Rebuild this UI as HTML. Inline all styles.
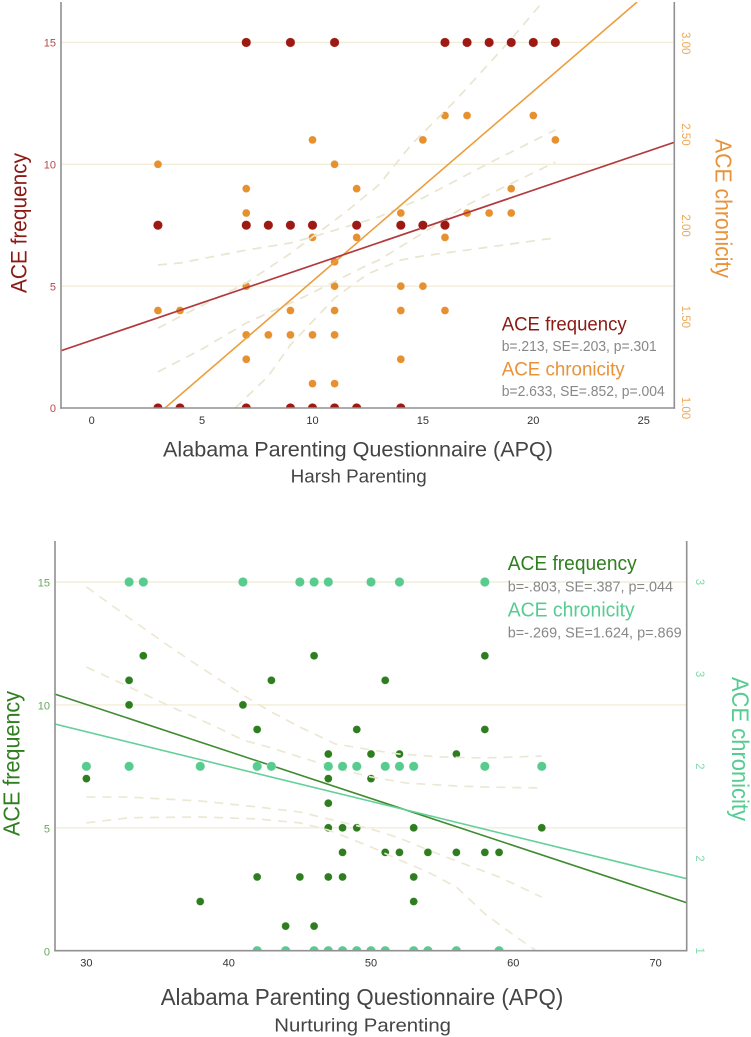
<!DOCTYPE html>
<html lang="en">
<head>
<meta charset="utf-8">
<title>ACE frequency and chronicity by parenting scores</title>
<style>
html,body{margin:0;padding:0;background:#fff;}
svg{display:block;font-family:"Liberation Sans",sans-serif;}
</style>
</head>
<body>
<svg id="figure" width="751" height="1037" viewBox="0 0 751 1037" xmlns="http://www.w3.org/2000/svg">
<defs>
<clipPath id="harsh-clip"><rect x="61" y="2" width="613" height="406"/></clipPath>
<clipPath id="nurt-clip"><rect x="55" y="541" width="632" height="410"/></clipPath>
</defs>
<g id="harsh-chart"></g>
<g id="nurt-chart"></g>

<text transform="translate(26.7,293) rotate(-90)" font-size="22" fill="#8B1A14" textLength="140" lengthAdjust="spacingAndGlyphs">ACE frequency</text>
<text transform="translate(715.5,139) rotate(90)" font-size="23" fill="#E8923A" textLength="139" lengthAdjust="spacingAndGlyphs">ACE chronicity</text>
<text x="163" y="456.7" font-size="21" fill="#444" textLength="390" lengthAdjust="spacingAndGlyphs">Alabama Parenting Questionnaire (APQ)</text>
<text x="290.7" y="482.7" font-size="18" fill="#444" textLength="136" lengthAdjust="spacingAndGlyphs">Harsh Parenting</text>
<text x="501.7" y="330.7" font-size="19.5" fill="#8B1A14" textLength="125" lengthAdjust="spacingAndGlyphs">ACE frequency</text>
<text x="501.7" y="351" font-size="14.5" fill="#888" textLength="155" lengthAdjust="spacingAndGlyphs">b=.213, SE=.203, p=.301</text>
<text x="501.7" y="375.7" font-size="19.5" fill="#E8923A" textLength="123" lengthAdjust="spacingAndGlyphs">ACE chronicity</text>
<text x="501.7" y="396" font-size="14.5" fill="#888" textLength="163" lengthAdjust="spacingAndGlyphs">b=2.633, SE=.852, p=.004</text>

<text transform="translate(19.3,836) rotate(-90)" font-size="23" fill="#2F7F1F" textLength="145" lengthAdjust="spacingAndGlyphs">ACE frequency</text>
<text transform="translate(732,677) rotate(90)" font-size="24" fill="#57CC92" textLength="144" lengthAdjust="spacingAndGlyphs">ACE chronicity</text>
<text x="160.7" y="1005" font-size="23" fill="#444" textLength="402.6" lengthAdjust="spacingAndGlyphs">Alabama Parenting Questionnaire (APQ)</text>
<text x="274.3" y="1031.7" font-size="18.5" fill="#444" textLength="176.7" lengthAdjust="spacingAndGlyphs">Nurturing Parenting</text>
<text x="507.7" y="570" font-size="20" fill="#2F7F1F" textLength="129" lengthAdjust="spacingAndGlyphs">ACE frequency</text>
<text x="507.7" y="591.7" font-size="15" fill="#888" textLength="165.3" lengthAdjust="spacingAndGlyphs">b=-.803, SE=.387, p=.044</text>
<text x="507.7" y="616.7" font-size="20" fill="#57CC92" textLength="127" lengthAdjust="spacingAndGlyphs">ACE chronicity</text>
<text x="507.7" y="637.7" font-size="15" fill="#888" textLength="174" lengthAdjust="spacingAndGlyphs">b=-.269, SE=1.624, p=.869</text>
</svg>

<script>
/* ---------- Harsh parenting chart data ---------- */
var harshXTicks = [0, 5, 10, 15, 20, 25];
var harshLeftTicks = [0, 5, 10, 15];
var harshGridTicks = [5, 10, 15];
var harshRightTicks = [1, 1.5, 2, 2.5, 3];
var harshRightLabels = ['1.00', '1.50', '2.00', '2.50', '3.00'];

var harshDarkX = [7, 9, 11, 16, 17, 18, 19, 20, 21, 3, 7, 8, 9, 10, 12, 14, 15, 16, 3, 4, 7, 9, 10, 11, 12, 14];
var harshDarkY = [15, 15, 15, 15, 15, 15, 15, 15, 15, 7.5, 7.5, 7.5, 7.5, 7.5, 7.5, 7.5, 7.5, 7.5, 0, 0, 0, 0, 0, 0, 0, 0];

var harshLightX = [16, 17, 20, 10, 15, 21, 3, 11, 7, 12, 19, 7, 14, 17, 18, 19, 10, 12, 16, 11, 7, 11, 14, 15, 3, 4, 9, 11, 14, 16, 7, 8, 9, 10, 11, 7, 14, 10, 11];
var harshLightY = [12, 12, 12, 11, 11, 11, 10, 10, 9, 9, 9, 8, 8, 8, 8, 8, 7, 7, 7, 6, 5, 5, 5, 5, 4, 4, 4, 4, 4, 4, 3, 3, 3, 3, 3, 2, 2, 1, 1];

var harshDarkLineX = [-1.39, 26.37];
var harshDarkLineY = [2.35, 10.9];
var harshLightLineX = [3.32, 24.7];
var harshLightLineY = [0, 16.66];

var harshBand1X = [3, 4, 7, 9, 10, 13, 15, 18, 21];
var harshBand1Y = [5.87, 5.95, 6.48, 6.77, 7.02, 7.84, 8.62, 10.05, 11.41];
var harshBand2X = [3, 4.5, 7, 9, 11.5, 13, 14.5, 16.5, 19, 20.5];
var harshBand2Y = [3.28, 3.98, 5.13, 6.34, 8.04, 9.15, 10.83, 12.64, 15.14, 16.74];
var harshBand3X = [3, 5, 7, 9.5, 12.5, 13, 15, 17, 21];
var harshBand3Y = [1.48, 2.42, 3.49, 4.51, 5.87, 6.07, 7.18, 8.33, 10.09];
var harshBand4X = [6.5, 8, 9, 11, 12.5, 14, 15, 17, 21];
var harshBand4Y = [0, 1.31, 2.59, 4.51, 5.5, 6.07, 6.24, 6.48, 6.98];

/* ---------- Nurturing parenting chart data ---------- */
var nurtXTicks = [30, 40, 50, 60, 70];
var nurtLeftTicks = [0, 5, 10, 15];
var nurtGridTicks = [5, 10, 15];
var nurtRightTicks = [1, 1.5, 2, 2.5, 3];
var nurtRightLabels = ['1', '2', '2', '3', '3'];

var nurtDarkX = [34, 46, 58, 33, 43, 51, 33, 41, 42, 49, 58, 47, 50, 52, 56, 30, 47, 50, 47, 47, 48, 49, 53, 62, 48, 51, 52, 54, 56, 58, 59, 42, 45, 47, 48, 53, 38, 53, 44, 46];
var nurtDarkY = [12, 12, 12, 11, 11, 11, 10, 10, 9, 9, 9, 8, 8, 8, 8, 7, 7, 7, 6, 5, 5, 5, 5, 5, 4, 4, 4, 4, 4, 4, 4, 3, 3, 3, 3, 3, 2, 2, 1, 1];

var nurtLightX = [33, 34, 41, 45, 46, 47, 50, 52, 58, 30, 33, 38, 42, 43, 47, 48, 49, 51, 52, 53, 58, 62, 42, 44, 46, 47, 48, 49, 50, 51, 53, 54, 56, 59];
var nurtLightY = [15, 15, 15, 15, 15, 15, 15, 15, 15, 7.5, 7.5, 7.5, 7.5, 7.5, 7.5, 7.5, 7.5, 7.5, 7.5, 7.5, 7.5, 7.5, 0, 0, 0, 0, 0, 0, 0, 0, 0, 0, 0, 0];

var nurtDarkLineX = [27.79, 72.19];
var nurtDarkLineY = [10.44, 1.95];
var nurtLightLineX = [27.79, 72.19];
var nurtLightLineY = [9.22, 2.93];

var nurtBand1X = [30, 33, 36, 38, 41, 43, 45, 47.5, 50, 52, 55, 58, 62];
var nurtBand1Y = [14.8, 13.54, 12.31, 11.54, 10.4, 9.71, 9.1, 8.41, 8.17, 8, 7.88, 7.84, 7.92];
var nurtBand2X = [30, 33, 36, 39, 41, 43, 45, 48, 50, 52.5, 56, 58, 62];
var nurtBand2Y = [11.54, 10.73, 9.91, 9.14, 8.57, 8.25, 7.88, 7.35, 7.07, 6.82, 6.7, 6.66, 6.62];
var nurtBand3X = [30, 33, 38, 42, 45, 47, 50, 52, 54, 56, 59, 62];
var nurtBand3Y = [6.25, 6.25, 6.09, 5.85, 5.64, 5.36, 4.95, 4.58, 4.1, 3.65, 3, 2.18];
var nurtBand4X = [30, 33, 38, 42, 45, 47, 50, 52, 54, 56, 58, 60, 61.6];
var nurtBand4Y = [5.2, 5.41, 5.44, 5.36, 5.2, 4.91, 4.22, 3.69, 3.2, 2.59, 1.5, 0.65, 0];

/* ---------- Axis functions ---------- */
function harshX(v) { return 91.7 + 22.08 * v; }
function harshY(v) { return 408 - 24.37 * v; }
function harshRightY(v) { return 408 - 182.4 * (v - 1); }
function nurtX(v) { return 86.4 + 14.23 * (v - 30); }
function nurtY(v) { return 950.7 - 24.58 * v; }
function nurtRightY(v) { return 950.7 - 184.4 * (v - 1); }

var NS = 'http://www.w3.org/2000/svg';

function drawDots(parent, xs, ys, sx, sy, r, fill, name, clipId) {
  var g = document.createElementNS(NS, 'g');
  g.setAttribute('clip-path', 'url(#' + clipId + ')');
  
  
  for (var i = 0; i < xs.length; i++) {
    var c = document.createElementNS(NS, 'circle');
    c.setAttribute('cx', sx(xs[i]));
    c.setAttribute('cy', sy(ys[i]));
    c.setAttribute('r', r);
    c.setAttribute('fill', fill);
    c.setAttribute('stroke', '#fff');
    c.setAttribute('stroke-width', '0.5');
    c.setAttribute('stroke-opacity', '0.6');
    
    
    g.appendChild(c);
  }
  parent.appendChild(g);
}

function drawPath(parent, xs, ys, sx, sy, stroke, width, dash, name, clipId) {
  var p = document.createElementNS(NS, 'polyline');
  var pts = [];
  for (var i = 0; i < xs.length; i++) {
    pts.push(sx(xs[i]).toFixed(2) + ',' + sy(ys[i]).toFixed(2));
  }
  p.setAttribute('points', pts.join(' '));
  p.setAttribute('fill', 'none');
  p.setAttribute('stroke', stroke);
  p.setAttribute('stroke-width', width);
  if (dash) { p.setAttribute('stroke-dasharray', dash); }
  p.setAttribute('clip-path', 'url(#' + clipId + ')');
  
  
  parent.appendChild(p);
}

function drawRule(parent, x1, y1, x2, y2, stroke, width, name) {
  var l = document.createElementNS(NS, 'line');
  l.setAttribute('x1', x1);
  l.setAttribute('y1', y1);
  l.setAttribute('x2', x2);
  l.setAttribute('y2', y2);
  l.setAttribute('stroke', stroke);
  l.setAttribute('stroke-width', width);
  
  
  parent.appendChild(l);
}

function drawLabel(parent, x, y, label, anchor, size, fill, rotate, name) {
  var t = document.createElementNS(NS, 'text');
  t.setAttribute('transform', 'translate(' + x + ',' + y + ')' + (rotate ? ' rotate(' + rotate + ')' : ''));
  t.setAttribute('text-anchor', anchor);
  t.setAttribute('font-size', size);
  t.setAttribute('fill', fill);
  
  
  t.textContent = label;
  parent.appendChild(t);
}

/* ---------- Harsh parenting chart ---------- */
var h = document.getElementById('harsh-chart');
harshGridTicks.forEach(function (v) {
  drawRule(h, 62, harshY(v), 673, harshY(v), '#F2EDD9', 1.4, 'harsh-gridline');
});
drawDots(h, harshLightX, harshLightY, harshX, harshY, 4, '#E6902F', 'harsh-chronicity-point', 'harsh-clip');
drawPath(h, harshBand1X, harshBand1Y, harshX, harshY, '#E9E5D0', 1.7, '9 7', 'harsh-confidence-band', 'harsh-clip');
drawPath(h, harshBand2X, harshBand2Y, harshX, harshY, '#E9E5D0', 1.7, '9 7', 'harsh-confidence-band', 'harsh-clip');
drawPath(h, harshBand3X, harshBand3Y, harshX, harshY, '#E9E5D0', 1.7, '9 7', 'harsh-confidence-band', 'harsh-clip');
drawPath(h, harshBand4X, harshBand4Y, harshX, harshY, '#E9E5D0', 1.7, '9 7', 'harsh-confidence-band', 'harsh-clip');
drawPath(h, harshLightLineX, harshLightLineY, harshX, harshY, '#EC9E3E', 1.6, '', 'harsh-chronicity-regression-line', 'harsh-clip');
drawPath(h, harshDarkLineX, harshDarkLineY, harshX, harshY, '#B23A3C', 1.7, '', 'harsh-frequency-regression-line', 'harsh-clip');
drawDots(h, harshDarkX, harshDarkY, harshX, harshY, 4.7, '#9C1A13', 'harsh-frequency-point', 'harsh-clip');
drawRule(h, 61, 2, 61, 408.7, '#909090', 1.6, 'harsh-left-axis');
drawRule(h, 674.3, 2, 674.3, 408.7, '#909090', 1.6, 'harsh-right-axis');
drawRule(h, 60.2, 408, 675.1, 408, '#909090', 1.6, 'harsh-x-axis');
harshXTicks.forEach(function (v) {
  drawLabel(h, harshX(v), 424, String(v), 'middle', 11, '#333', 0, 'harsh-x-tick-label');
});
harshLeftTicks.forEach(function (v) {
  drawLabel(h, 56, harshY(v) + 4.2, String(v), 'end', 11, '#B8474A', 0, 'harsh-left-tick-label');
});
harshRightTicks.forEach(function (v, i) {
  drawLabel(h, 682, harshRightY(v), harshRightLabels[i], 'middle', 11.5, '#EDA85A', 90, 'harsh-right-tick-label');
});

/* ---------- Nurturing parenting chart ---------- */
var n = document.getElementById('nurt-chart');
nurtGridTicks.forEach(function (v) {
  drawRule(n, 56, nurtY(v), 686, nurtY(v), '#F2EDD9', 1.4, 'nurturing-gridline');
});
drawDots(n, nurtDarkX, nurtDarkY, nurtX, nurtY, 4, '#2E7D1F', 'nurturing-frequency-point', 'nurt-clip');
drawPath(n, nurtBand1X, nurtBand1Y, nurtX, nurtY, '#EDE8D4', 1.7, '9 7', 'nurturing-confidence-band', 'nurt-clip');
drawPath(n, nurtBand2X, nurtBand2Y, nurtX, nurtY, '#EDE8D4', 1.7, '9 7', 'nurturing-confidence-band', 'nurt-clip');
drawPath(n, nurtBand3X, nurtBand3Y, nurtX, nurtY, '#EDE8D4', 1.7, '9 7', 'nurturing-confidence-band', 'nurt-clip');
drawPath(n, nurtBand4X, nurtBand4Y, nurtX, nurtY, '#EDE8D4', 1.7, '9 7', 'nurturing-confidence-band', 'nurt-clip');
drawPath(n, nurtDarkLineX, nurtDarkLineY, nurtX, nurtY, '#3F8B30', 1.6, '', 'nurturing-frequency-regression-line', 'nurt-clip');
drawPath(n, nurtLightLineX, nurtLightLineY, nurtX, nurtY, '#63D09A', 1.6, '', 'nurturing-chronicity-regression-line', 'nurt-clip');
drawDots(n, nurtLightX, nurtLightY, nurtX, nurtY, 4.7, '#58CB8F', 'nurturing-chronicity-point', 'nurt-clip');
drawRule(n, 55, 541, 55, 951.4, '#909090', 1.6, 'nurturing-left-axis');
drawRule(n, 686.7, 541, 686.7, 951.4, '#909090', 1.6, 'nurturing-right-axis');
drawRule(n, 54.2, 950.7, 687.5, 950.7, '#909090', 1.6, 'nurturing-x-axis');
nurtXTicks.forEach(function (v) {
  drawLabel(n, nurtX(v), 966.7, String(v), 'middle', 11, '#333', 0, 'nurturing-x-tick-label');
});
nurtLeftTicks.forEach(function (v) {
  drawLabel(n, 50, nurtY(v) + 4.6, String(v), 'end', 11, '#67A85B', 0, 'nurturing-left-tick-label');
});
nurtRightTicks.forEach(function (v, i) {
  drawLabel(n, 696, nurtRightY(v), nurtRightLabels[i], 'middle', 11.5, '#7FDBAC', 90, 'nurturing-right-tick-label');
});
</script>
</body>
</html>
